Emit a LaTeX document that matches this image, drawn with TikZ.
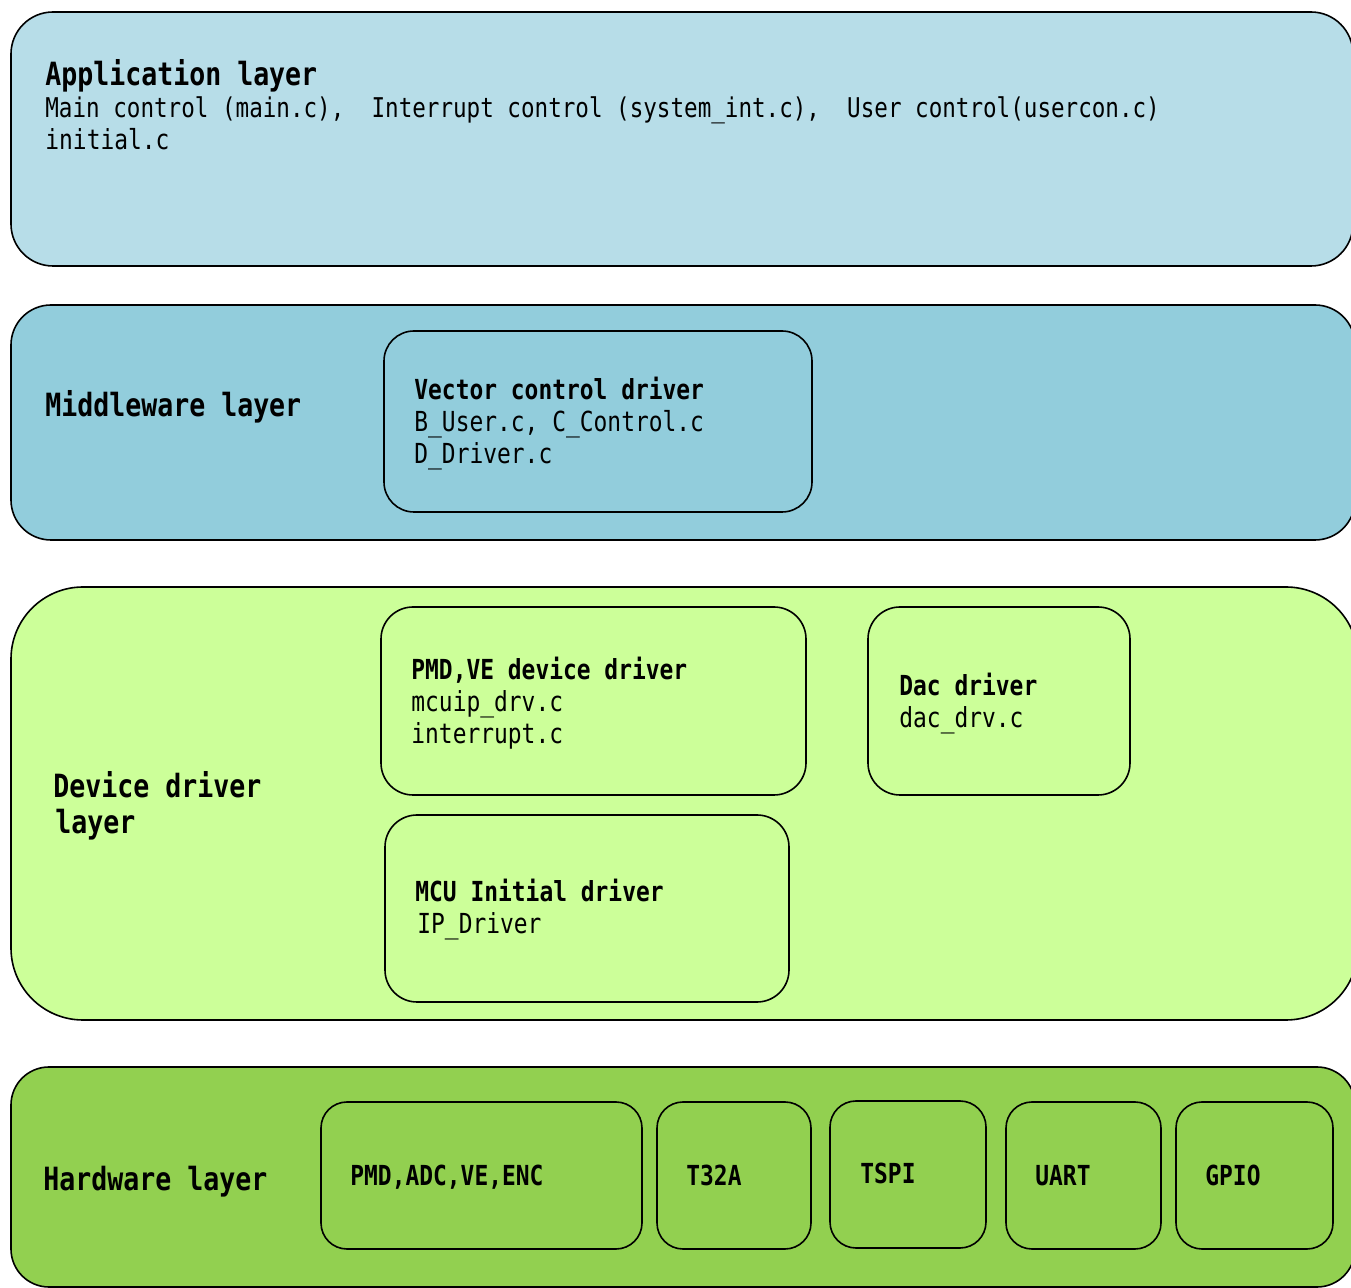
\documentclass[tikz,border=0pt]{standalone}
\usepackage{fontspec}
\setmainfont{DejaVu Sans Mono}[FakeStretch=0.83]
\definecolor{appblue}{HTML}{B7DDE8}
\definecolor{midblue}{HTML}{92CDDC}
\definecolor{devgreen}{HTML}{CCFF99}
\definecolor{hwgreen}{HTML}{92D050}
\begin{document}
\begin{tikzpicture}[x=0.5pt, y=-0.5pt, line join=round,
    layer/.style={draw=black, line width=0.8pt},
    lbl/.style={anchor=base west, inner sep=0pt},
    hd/.style={lbl, font=\bfseries\fontsize{16}{19}\selectfont},
    sub/.style={lbl, font=\bfseries\fontsize{13.8}{16}\selectfont},
    txt/.style={lbl, font=\fontsize{13.8}{16}\selectfont}]
	\useasboundingbox (0,0) rectangle (1351,1288);
	\clip (0,0) rectangle (1351,1288);
	% layers
	\draw[layer, fill=appblue, rounded corners=21pt] (11,12) rectangle (1353,266);
	\draw[layer, fill=midblue, rounded corners=20pt] (11,305) rectangle (1355,540);
	\draw[layer, fill=devgreen, rounded corners=36pt] (11,587) rectangle (1358,1020);
	\draw[layer, fill=hwgreen, rounded corners=19pt] (11,1067) rectangle (1355,1287);
	% blocks
	\draw[layer, rounded corners=15pt] (384,331) rectangle (812,512);
	\draw[layer, rounded corners=16pt] (381,607) rectangle (806,795);
	\draw[layer, rounded corners=16pt] (868,607) rectangle (1130,795);
	\draw[layer, rounded corners=16pt] (385,815) rectangle (789,1002);
	\draw[layer, rounded corners=13pt] (321,1102) rectangle (642,1249);
	\draw[layer, rounded corners=13pt] (657,1102) rectangle (811,1249);
	\draw[layer, rounded corners=13pt] (830,1101) rectangle (986,1248);
	\draw[layer, rounded corners=13pt] (1006,1102) rectangle (1161,1249);
	\draw[layer, rounded corners=13pt] (1176,1102) rectangle (1333,1249);
	% application layer
	\node[hd] (apphd) at (45,86) {Application layer};
	\node[txt, font=\fontsize{13.6}{16}\selectfont] (appsrc) at (45,118) {Main control (main.c),\ \ Interrupt control (system\_int.c),\ \ User control(usercon.c)};
	\node[txt] (appini) at (45,150) {initial.c};
	% middleware layer
	\node[hd] (midhd) at (45,417) {Middleware layer};
	\node[sub] (vechd) at (414,400) {Vector control driver};
	\node[txt] (vecsrc) at (414,432) {B\_User.c,\ C\_Control.c};
	\node[txt] (vecdrv) at (414,464) {D\_Driver.c};
	% device driver layer
	\node[hd] (devhd) at (53,798) {Device driver};
	\node[hd] (devhd2) at (55,834) {layer};
	\node[sub] (pmdhd) at (411,680) {PMD,VE device driver};
	\node[txt] (pmdsrc) at (411,712) {mcuip\_drv.c};
	\node[txt] (pmdint) at (411,744) {interrupt.c};
	\node[sub] (dachd) at (899,696) {Dac driver};
	\node[txt] (dacsrc) at (899,728) {dac\_drv.c};
	\node[sub] (mcuhd) at (415,902) {MCU Initial driver};
	\node[txt] (mcusrc) at (417,934) {IP\_Driver};
	% hardware layer
	\node[hd] (hwhd) at (43,1190) {Hardware layer};
	\node[sub] (hwpmd) at (350,1185) {PMD,ADC,VE,ENC};
	\node[sub] (hwt32) at (686,1185) {T32A};
	\node[sub] (hwspi) at (860,1183) {TSPI};
	\node[sub] (hwuart) at (1035,1185) {UART};
	\node[sub] (hwgpio) at (1205,1185) {GPIO};
\end{tikzpicture}
\end{document}
